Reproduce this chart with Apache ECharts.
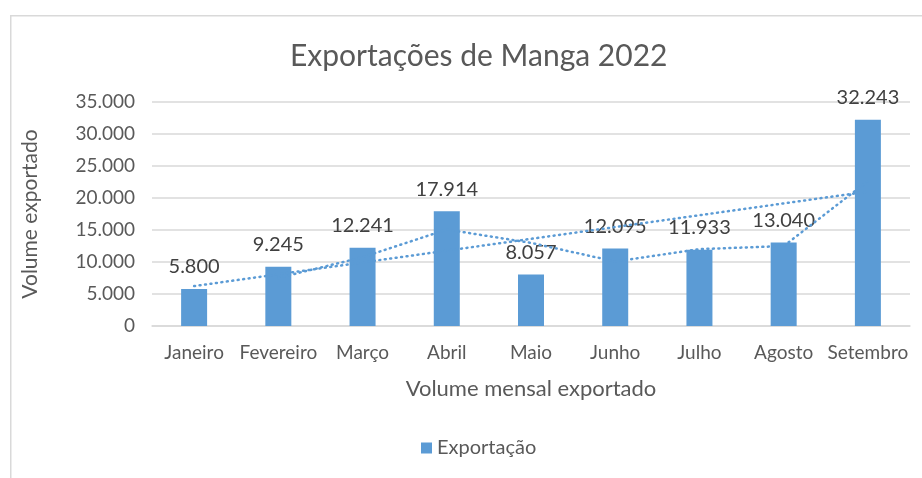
<!DOCTYPE html>
<html>
<head>
<meta charset="utf-8">
<script src="https://cdn.jsdelivr.net/npm/echarts@6/dist/echarts.min.js"></script>
<style>
html,body{margin:0;padding:0;background:#fff;}
#chart{width:922px;height:478px;}
</style>
</head>
<body>
<div id="chart"></div>
<script>
var meses = ['Janeiro','Fevereiro','Março','Abril','Maio','Junho','Julho','Agosto','Setembro'];
var exportacao = [5800, 9245, 12241, 17914, 8057, 12095, 11933, 13040, 32243];
// trendlines as seen in the picture (Excel: 2-period moving average + linear)
var mediaMovel = [null, 7522, 10743, 15077, 12985, 10076, 12014, 12486, 22641];
var tendLinear = [6237, null, null, null, null, null, null, null, 21000];
var yTicks = [0, 5000, 10000, 15000, 20000, 25000, 30000, 35000];

var fonte = 'Lato, "Liberation Sans", sans-serif';
var azul = '#5b9bd5';

function fmt(v){
  return String(v).replace(/\B(?=(\d{3})+(?!\d))/g, '.');
}

var chart = echarts.init(document.getElementById('chart'));
var trendStyle = {color: azul, width: 2.5, type: [1, 4.5], cap: 'round'};

chart.setOption({
  animation: false,
  textStyle: {fontFamily: fonte},
  graphic: [{
    type: 'rect', left: 10, top: 15, z: -1,
    shape: {width: 940, height: 490},
    style: {fill: '#fff', stroke: '#d9d9d9', lineWidth: 1.5}
  }],
  title: {
    text: 'Exportações de Manga 2022',
    left: 285, top: 36,
    textStyle: {fontFamily: fonte, fontSize: 30, fontWeight: 'normal', color: '#595959'}
  },
  grid: {left: 152, right: 12, top: 102, bottom: 152},
  legend: {
    data: ['Exportação'],
    bottom: 15, left: 416,
    itemWidth: 11, itemHeight: 11, itemGap: 5,
    icon: 'rect',
    textStyle: {fontFamily: fonte, fontSize: 20, color: '#595959'}
  },
  xAxis: {
    type: 'category',
    data: meses,
    name: 'Volume mensal exportado',
    nameLocation: 'middle',
    nameGap: 52,
    nameTextStyle: {fontFamily: fonte, fontSize: 22, color: '#595959'},
    axisLine: {lineStyle: {color: '#d9d9d9', width: 1.5}},
    axisTick: {show: false},
    axisLabel: {fontFamily: fonte, fontSize: 19, color: '#595959', margin: 17, interval: 0}
  },
  yAxis: {
    type: 'value',
    min: yTicks[0], max: yTicks[yTicks.length - 1], interval: 5000,
    name: 'Volume exportado',
    nameLocation: 'middle',
    nameGap: 111,
    nameTextStyle: {fontFamily: fonte, fontSize: 21, color: '#595959'},
    axisLine: {show: false},
    axisTick: {show: false},
    splitLine: {lineStyle: {color: '#d9d9d9', width: 1.5}},
    axisLabel: {fontFamily: fonte, fontSize: 19, color: '#595959', margin: 17, formatter: fmt}
  },
  series: [{
    name: 'Exportação',
    type: 'bar',
    barWidth: 26,
    data: exportacao,
    itemStyle: {color: azul},
    label: {
      show: true, position: 'top', distance: 12,
      fontFamily: fonte, fontSize: 20, color: '#404040',
      formatter: function(p){ return fmt(p.value); }
    }
  }, {
    name: 'Média móvel',
    type: 'line',
    data: mediaMovel,
    symbol: 'none',
    lineStyle: trendStyle,
    z: 3
  }, {
    name: 'Linear',
    type: 'line',
    data: tendLinear,
    connectNulls: true,
    symbol: 'none',
    lineStyle: trendStyle,
    z: 3
  }]
});
</script>
</body>
</html>
